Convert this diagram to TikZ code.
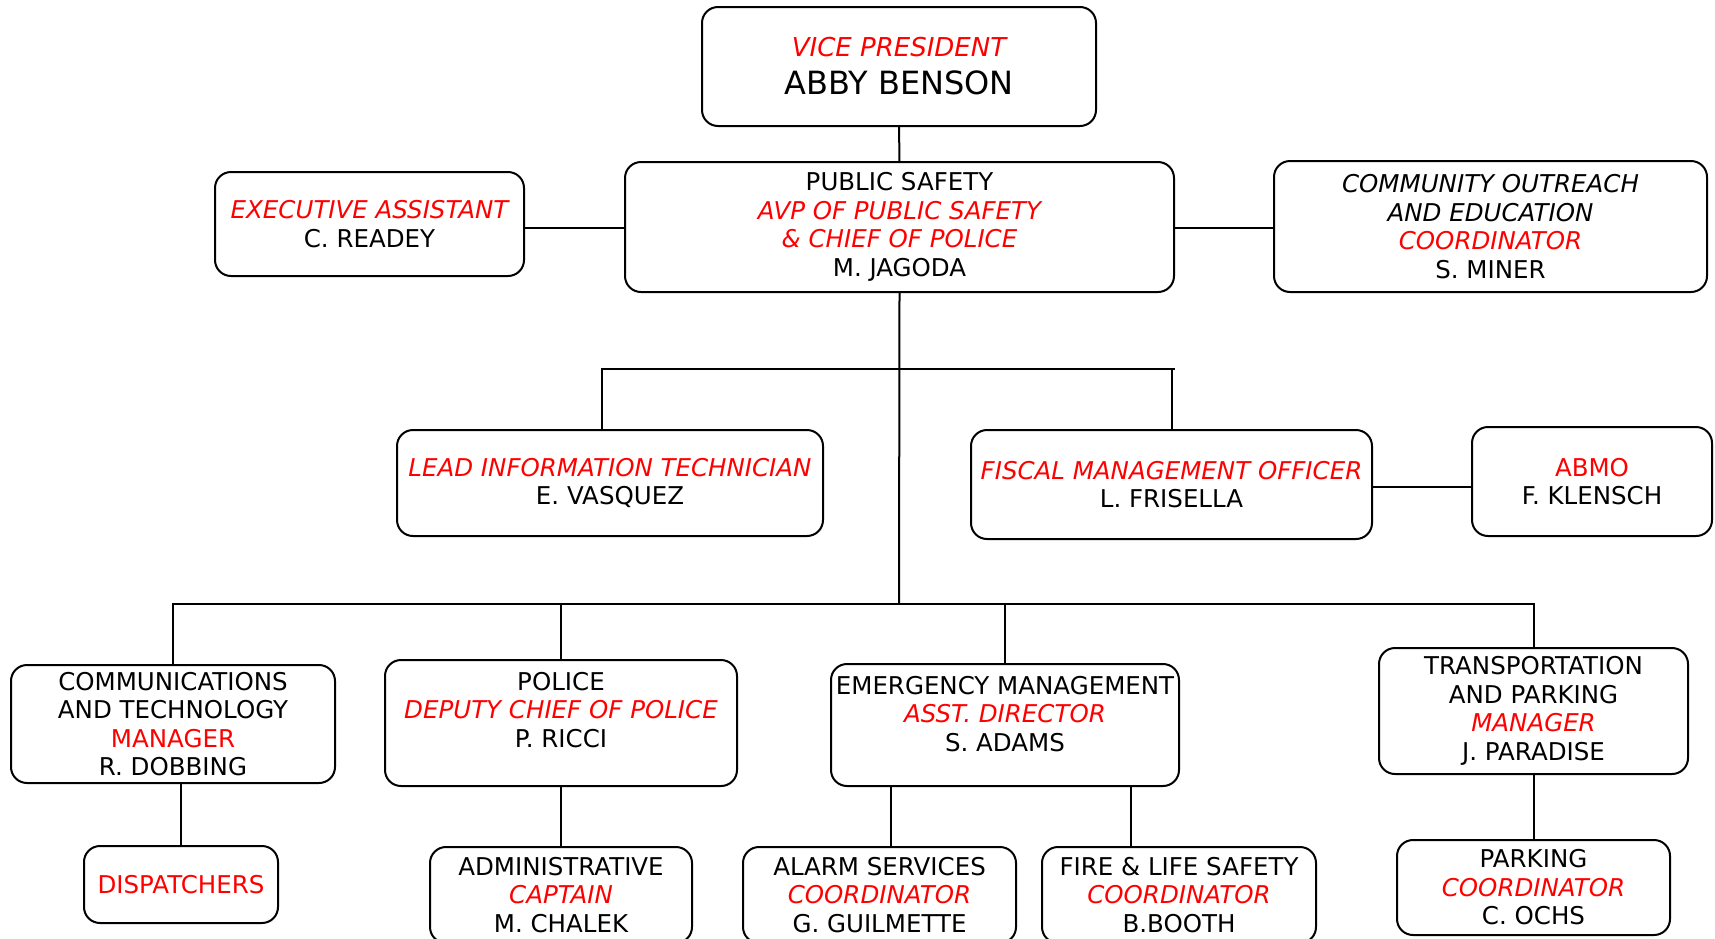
\documentclass[tikz,border=0pt]{standalone}
\usepackage{fontspec}
\setmainfont{DejaVu Sans}
\tikzset{
 box/.style={draw, line width=2pt, rounded corners=16pt, align=center, fill=white, inner sep=3pt, font=\fontsize{24.5}{28.5}\selectfont},
 boxtext/.style={align=center, inner sep=0pt, font=\fontsize{24.5}{28.5}\selectfont},
 link/.style={line width=2pt}
}
\newcommand\ttl[1]{\textcolor{red}{\itshape #1}}
\newcommand\ttlup[1]{\textcolor{red}{#1}}
\begin{document}
\begin{tikzpicture}[x=1pt,y=-1pt]
 \clip (0,0) rectangle (1715,938);
 % top level
 \node[box, minimum width=394pt, minimum height=119pt, font=\fontsize{32}{38}\selectfont] (vp) at (899,66.5) {{\fontsize{26}{38}\selectfont\ttl{VICE PRESIDENT}}\\ABBY BENSON};
 \node[box, minimum width=549pt, minimum height=130pt] (ps) at (899.5,227) {PUBLIC SAFETY\\\ttl{AVP OF PUBLIC SAFETY}\\\ttl{\& CHIEF OF POLICE}\\M. JAGODA};
 \node[box, minimum width=309pt, minimum height=104pt] (exec) at (369.5,224) {\ttl{EXECUTIVE ASSISTANT}\\C. READEY};
 \node[box, minimum width=433pt, minimum height=131pt] (outreach) at (1490.5,226.5) {\textit{COMMUNITY OUTREACH}\\\textit{AND EDUCATION}\\\ttl{COORDINATOR}\\S. MINER};
 % staff
 \node[box, minimum width=426pt, minimum height=106pt] (lit) at (610,483) {\ttl{LEAD INFORMATION TECHNICIAN}\\E. VASQUEZ};
 \node[box, minimum width=401pt, minimum height=109pt] (fiscal) at (1171.5,484.5) {\ttl{FISCAL MANAGEMENT OFFICER}\\L. FRISELLA};
 \node[box, minimum width=240pt, minimum height=109pt] (abmo) at (1592,481.5) {\ttlup{ABMO}\\F. KLENSCH};
 % divisions
 \node[box, minimum width=324pt, minimum height=118pt] (comm) at (173,724) {COMMUNICATIONS\\AND TECHNOLOGY\\\ttlup{MANAGER}\\R. DOBBING};
 \node[box, minimum width=352pt, minimum height=126pt,
   label={[boxtext, name=policetxt, yshift=13pt]center:{POLICE\\\ttl{DEPUTY CHIEF OF POLICE}\\P. RICCI}}] (police) at (561,723) {};
 \node[box, minimum width=348pt, minimum height=122pt,
   label={[boxtext, name=emergtxt, yshift=11pt]center:{EMERGENCY MANAGEMENT\\\ttl{ASST. DIRECTOR}\\S. ADAMS}}] (emerg) at (1005,725) {};
 \node[box, minimum width=309pt, minimum height=126pt] (trans) at (1533.5,711) {TRANSPORTATION\\AND PARKING\\\ttl{MANAGER}\\J. PARADISE};
 % units
 \node[box, minimum width=194pt, minimum height=77pt] (disp) at (181,884.5) {\ttlup{DISPATCHERS}};
 \node[box, minimum width=262pt, minimum height=96pt] (admin) at (561,895) {ADMINISTRATIVE\\\ttl{CAPTAIN}\\M. CHALEK};
 \node[box, minimum width=273pt, minimum height=96pt] (alarm) at (879.5,895) {ALARM SERVICES\\\ttl{COORDINATOR}\\G. GUILMETTE};
 \node[box, minimum width=274pt, minimum height=96pt] (fire) at (1179,895) {FIRE \& LIFE SAFETY\\\ttl{COORDINATOR}\\B.BOOTH};
 \node[box, minimum width=273pt, minimum height=95pt] (parking) at (1533.5,887.5) {PARKING\\\ttl{COORDINATOR}\\C. OCHS};
 % links
 \coordinate (ubus) at (899,369);
 \coordinate (hub) at (899,604);
 \draw[link] (vp) -- (ps);
 \draw[link] (exec.east |- 0,228) -- (ps.west |- 0,228);
 \draw[link] (ps.east |- 0,228) -- (outreach.west |- 0,228);
 \draw[link] (ps.south) -- (hub);
 \draw[link] ([xshift=-8pt]lit.north) |- ([xshift=3pt]fiscal.north |- ubus);
 \draw[link] (fiscal.north) -- (fiscal.north |- ubus);
 \draw[link] (fiscal.east |- 0,487) -- (abmo.west |- 0,487);
 \draw[link] (comm.north) |- (trans.north |- hub) -- (trans.north);
 \draw[link] (police.north) -- (police.north |- hub);
 \draw[link] (emerg.north) -- (emerg.north |- hub);
 \draw[link] (disp.north) -- (disp.north |- comm.south);
 \draw[link] (police) -- (admin);
 \draw[link] (emerg.south -| 891,0) -- (alarm.north -| 891,0);
 \draw[link] (emerg.south -| 1131,0) -- (fire.north -| 1131,0);
 \draw[link] (trans) -- (parking);
\end{tikzpicture}
\end{document}
